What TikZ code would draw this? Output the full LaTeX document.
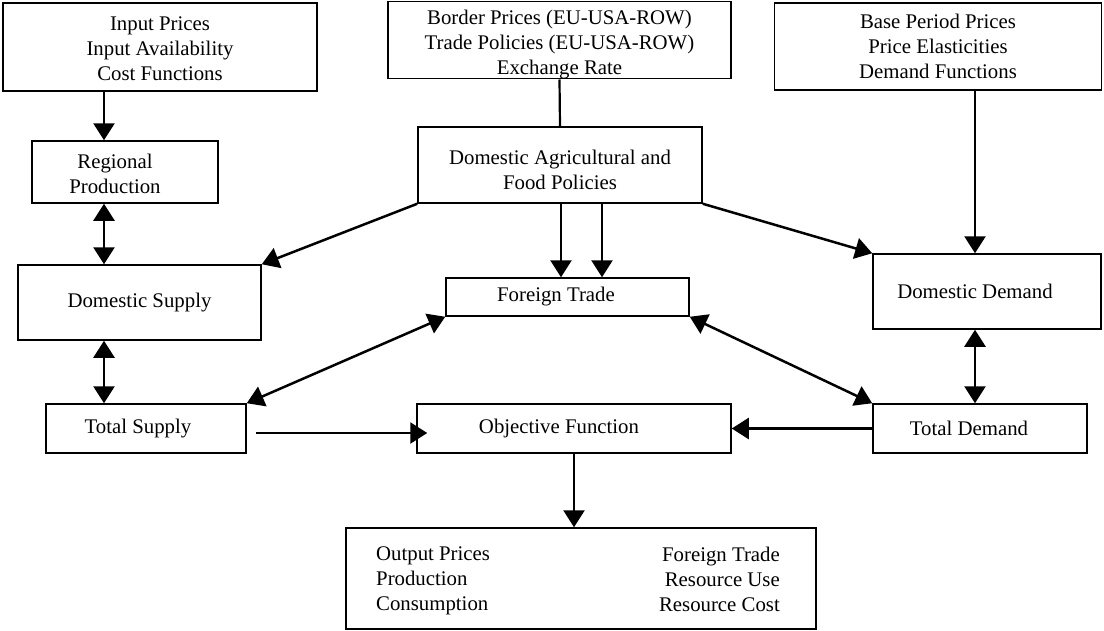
\documentclass[tikz,border=0pt]{standalone}
\usepackage{fontspec}
\setmainfont{Liberation Serif}
\usetikzlibrary{arrows.meta}

\newcommand{\topgap}[1]{\rule{0pt}{#1}}

\begin{document}
\begin{tikzpicture}[x=1pt, y=-1pt,
    box/.style={draw, line width=1.5pt, align=center, inner sep=0pt, font=\fontsize{20.8}{25}\selectfont},
    txt/.style={inner sep=0pt, font=\fontsize{20.8}{25}\selectfont},
    tleft/.style={execute at end node={\hspace*{#1}}},
    arr/.style={line width=2.5pt, -{Triangle[length=17pt,width=21pt]}},
    darr/.style={line width=2.5pt, {Triangle[length=17pt,width=21pt]}-{Triangle[length=17pt,width=21pt]}}]
                    \useasboundingbox (0,0) rectangle (1104,630);

                    \coordinate (colA) at (104,0);
                    \coordinate (colB) at (561,0);
                    \coordinate (colC) at (602,0);
                    \coordinate (colD) at (975,0);

                    \node [box, minimum width=314pt, minimum height=88pt] (inp) at (160,47)
                        {\topgap{18pt}Input Prices\\Input Availability\\Cost Functions};
                    \node [box, minimum width=343pt, minimum height=74pt] (border) at (559.5,40)
                        {\topgap{23pt}Border Prices (EU-USA-ROW)\\Trade Policies (EU-USA-ROW)\\Exchange Rate};
                    \node [box, minimum width=327pt, minimum height=87pt] (base) at (938,46.5)
                        {Base Period Prices\\Price Elasticities\\Demand Functions};

                    \node [box, minimum width=186pt, minimum height=62pt] (reg) at (125,172)
                        {\topgap{18pt}Regional\hspace*{20pt}\\Production\hspace*{20pt}};
                    \node [box, minimum width=284pt, minimum height=76pt] (dag) at (560,165)
                        {\topgap{24pt}Domestic Agricultural and\\Food Policies};

                    \node [box, minimum width=243pt, minimum height=75pt] (dsup) at (139.5,302.5) {Domestic Supply};
                    \node [box, tleft=23pt, minimum width=243pt, minimum height=38pt] (ft) at (567.5,297) {Foreign Trade};
                    \node [box, tleft=24pt, minimum width=228pt, minimum height=75pt] (ddem) at (987,291.5) {Domestic Demand};

                    \node [box, tleft=16pt, minimum width=200pt, minimum height=49pt] (tsup) at (146,428.5) {Total Supply};
                    \node [box, tleft=30pt, minimum width=314pt, minimum height=49pt] (obj) at (574,428.5) {Objective Function};
                    \node [box, tleft=22pt, minimum width=214pt, minimum height=49pt] (tdem) at (980,428.5) {Total Demand};

                    \node [box, minimum width=470pt, minimum height=101pt] (out) at (581,578.5) {};
                    \node [txt, anchor=west, align=left] (outl) at (376,581)
                        {Output Prices\\Production\\Consumption};
                    \node [txt, anchor=east, align=right] (outr) at (780,579)
                        {Foreign Trade\\Resource Use\\Resource Cost};

                    % left column
                    \draw[arr]  (inp.south -| colA) -- (reg.north -| colA);
                    \draw[darr] (reg.south -| colA) -- (dsup.north -| colA);
                    \draw[darr] (dsup.south -| colA) -- (tsup.north -| colA);

                    % policies
                    \draw[line width=2.2pt] (border.south) -- (dag.north);
                    \draw[arr] (dag.south -| colB) -- (ft.north -| colB);
                    \draw[arr] (dag.south -| colC) -- (ft.north -| colC);
                    \draw[arr] (dag.south west) -- (dsup.north east);
                    \draw[arr] (dag.south east) -- (ddem.north west);

                    % right column
                    \draw[arr]  (base.south -| colD) -- (ddem.north -| colD);
                    \draw[darr] (ddem.south -| colD) -- (tdem.north -| colD);

                    % trade and objective
                    \draw[darr] (ft.south west) -- (tsup.north east);
                    \draw[darr] (ft.south east) -- (tdem.north west);
                    \draw[arr] ([shift={(9pt,-4.5pt)}]tsup.east) -- ([shift={(11pt,-4.5pt)}]obj.west);
                    \draw[arr] (tdem.west) -- (obj.east);
                    \draw[arr] (obj.south) -- (obj.south |- out.north);
                \end{tikzpicture}
\end{document}
